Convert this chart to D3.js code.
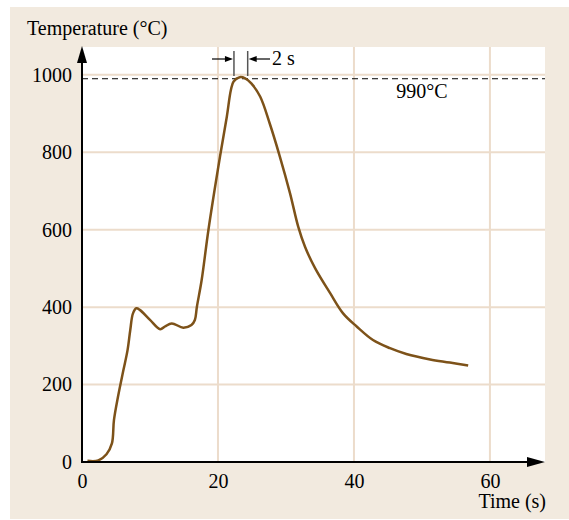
<!DOCTYPE html>
<html><head><meta charset="utf-8">
<script src="https://cdn.jsdelivr.net/npm/d3@7"></script>
<style>html,body{margin:0;padding:0;background:#fff;}svg{display:block;}</style>
</head><body>
<svg id="c" width="569" height="520"></svg>
<script>
const timeS = [0.8, 2.4, 3.6, 4.4, 4.7, 5.3, 6.1, 6.7, 7.1, 7.5, 8.0, 8.5, 10.0, 11.5, 12.2, 13.2, 14.9, 16.1, 16.6, 16.9, 17.6, 18.6, 20.3, 21.3, 21.9, 22.3, 23.2, 24.0, 24.9, 26.2, 27.6, 29.1, 30.6, 31.8, 32.8, 34.3, 36.5, 38.4, 40.4, 42.8, 45.3, 47.7, 51.2, 54.1, 56.8];
const tempC = [3, 4, 20, 48, 108, 169, 238, 289, 341, 384, 397, 393, 367, 343, 350, 358, 347, 354, 367, 401, 470, 600, 789, 892, 961, 983, 994, 991, 978, 944, 875, 789, 694, 608, 556, 500, 436, 384, 350, 315, 294, 279, 265, 257, 249];
const xTicks = [0, 20, 40, 60];
const yTicks = [0, 200, 400, 600, 800, 1000];
const refTemp = 990;
const refLabel = "990°C";
const spanStart = 22.35, spanEnd = 24.37;
const spanLabel = "2 s";
const yTitle = "Temperature (°C)";
const xTitle = "Time (s)";

const svg = d3.select("#c");
const font = "'Liberation Serif', 'DejaVu Serif', serif";
const beige = "#f2eadf", grid = "#ecdccb", curveCol = "#7d5219";

svg.append("rect").attr("x",10).attr("y",7).attr("width",559).attr("height",512).attr("fill",beige);

const x = d3.scaleLinear().domain([0, 68.1]).range([82, 545]);
const y = d3.scaleLinear().domain([0, 1072]).range([462, 47]);

svg.append("rect").attr("x",x(0)).attr("y",y(1072)).attr("width",x(68.1)-x(0)).attr("height",y(0)-y(1072)).attr("fill","#fff");

// grid
svg.append("g").selectAll("line").data(xTicks.filter(d=>d>0)).join("line")
  .attr("x1",d=>x(d)).attr("x2",d=>x(d)).attr("y1",y(0)).attr("y2",y(1072))
  .attr("stroke",grid).attr("stroke-width",2);
svg.append("g").selectAll("line").data(yTicks.filter(d=>d>0)).join("line")
  .attr("x1",x(0)).attr("x2",x(68.1)).attr("y1",d=>y(d)).attr("y2",d=>y(d))
  .attr("stroke",grid).attr("stroke-width",2);

// reference dashed line
svg.append("line").attr("x1",x(0)).attr("x2",x(68.1)).attr("y1",y(refTemp)).attr("y2",y(refTemp))
  .attr("stroke","#000").attr("stroke-width",1).attr("stroke-dasharray","6,4");
svg.append("text").attr("x",422).attr("y",98).attr("text-anchor","middle")
  .attr("font-family",font).attr("font-size",20).text(refLabel);

// curve
const pts = timeS.map((t,i)=>[t,tempC[i]]);
svg.append("path").datum(pts)
  .attr("d", d3.line().x(d=>x(d[0])).y(d=>y(d[1])).curve(d3.curveCatmullRom.alpha(0.5)))
  .attr("fill","none").attr("stroke",curveCol).attr("stroke-width",2.5).attr("stroke-linejoin","round");

// axes
const xAxis = d3.axisBottom(x).tickValues(xTicks).tickSize(0).tickPadding(8).tickFormat(d3.format("d"));
const gx = svg.append("g").attr("transform",`translate(0,${y(0)})`).call(xAxis);
const yAxis = d3.axisLeft(y).tickValues(yTicks).tickSize(0).tickPadding(10).tickFormat(d3.format("d"));
const gy = svg.append("g").attr("transform",`translate(${x(0)},0)`).call(yAxis);
[gx,gy].forEach(g=>{
  g.select(".domain").remove();
  g.selectAll("text").attr("font-family",font).attr("font-size",20).attr("fill","#000");
});
gx.selectAll("text").attr("dy","0.9em");

// axis lines with arrows
svg.append("line").attr("x1",x(0)).attr("x2",x(0)).attr("y1",y(0)+1).attr("y2",60).attr("stroke","#000").attr("stroke-width",2);
svg.append("path").attr("d",`M${x(0)},46 L${x(0)-5},63 L${x(0)+5},63 Z`).attr("fill","#000");
svg.append("line").attr("x1",x(0)-1).attr("x2",530).attr("y1",y(0)).attr("y2",y(0)).attr("stroke","#000").attr("stroke-width",2);
svg.append("path").attr("d",`M545,${y(0)} L527,${y(0)-5} L527,${y(0)+5} Z`).attr("fill","#000");

// titles
svg.append("text").attr("x",27).attr("y",35).attr("font-family",font).attr("font-size",20).text(yTitle);
svg.append("text").attr("x",546).attr("y",508).attr("text-anchor","end").attr("font-family",font).attr("font-size",20).text(xTitle);

// 2 s span marker
const sx1 = x(spanStart), sx2 = x(spanEnd);
[sx1,sx2].forEach(v=>svg.append("line").attr("x1",v).attr("x2",v).attr("y1",51).attr("y2",76).attr("stroke","#555").attr("stroke-width",1.5));
svg.append("line").attr("x1",212).attr("x2",sx1-6).attr("y1",59).attr("y2",59).attr("stroke","#000").attr("stroke-width",1.2);
svg.append("path").attr("d",`M${sx1-1},59 L${sx1-9},56 L${sx1-9},62 Z`).attr("fill","#000");
svg.append("line").attr("x1",sx2+6).attr("x2",270).attr("y1",59).attr("y2",59).attr("stroke","#000").attr("stroke-width",1.2);
svg.append("path").attr("d",`M${sx2+1},59 L${sx2+9},56 L${sx2+9},62 Z`).attr("fill","#000");
svg.append("text").attr("x",272).attr("y",65).attr("font-family",font).attr("font-size",20).text(spanLabel);
</script>
</body></html>
